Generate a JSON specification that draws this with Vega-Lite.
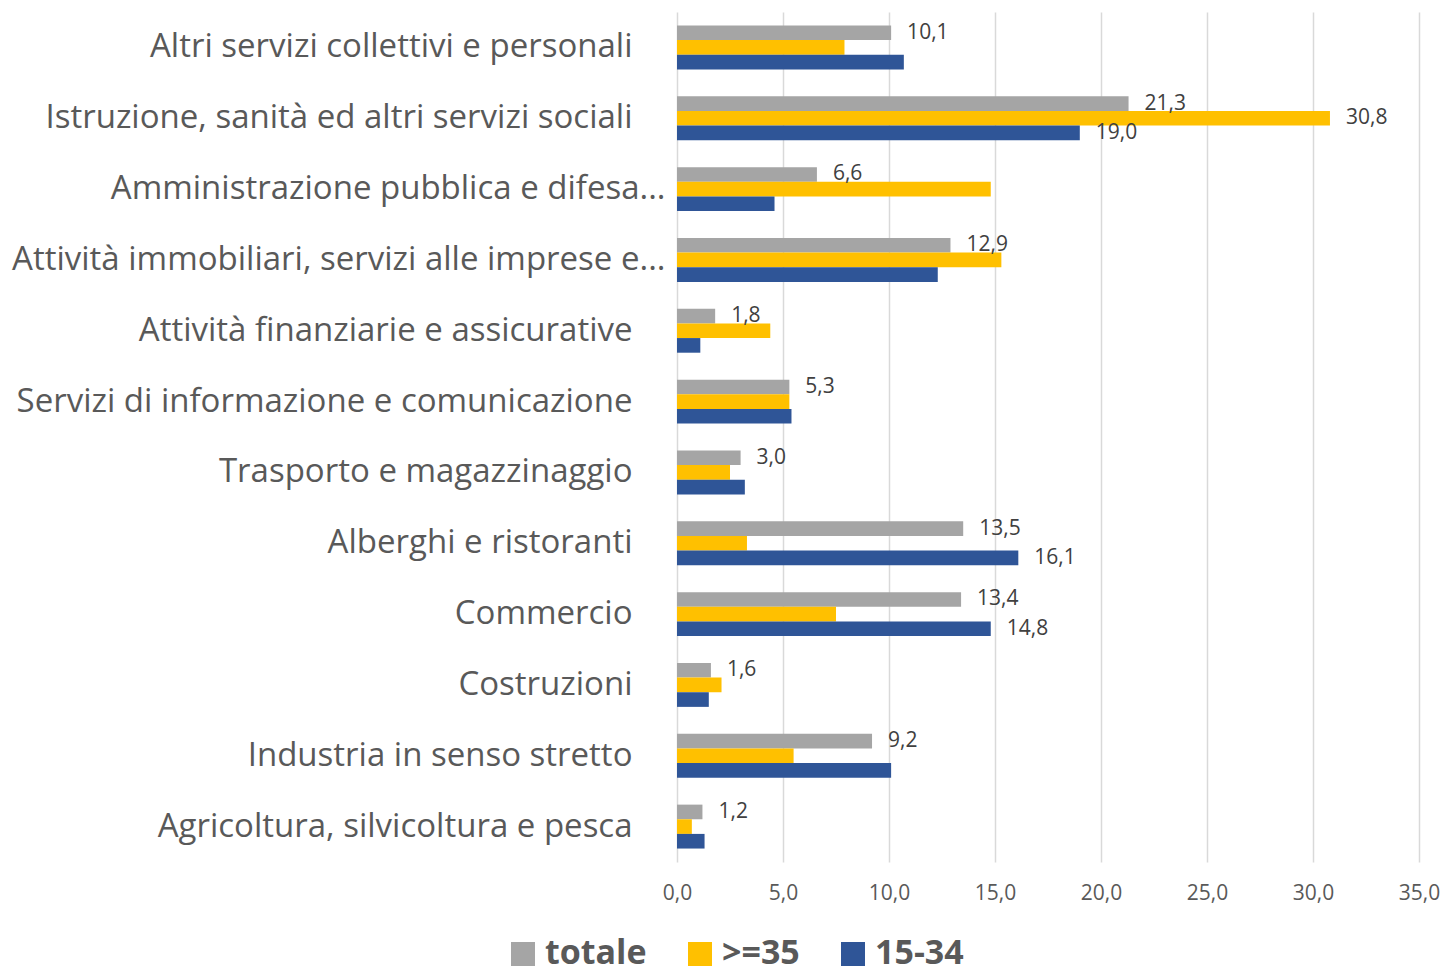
{
  "$schema": "https://vega.github.io/schema/vega-lite/v6.json",
  "width": 742,
  "height": 850,
  "padding": {"left": 11, "top": 12, "right": 10, "bottom": 0},
  "background": "white",
  "config": {
    "locale": {"number": {"decimal": ",", "thousands": ".", "grouping": [3], "currency": ["€", ""]}},
    "view": {"stroke": null},
    "font": "Open Sans"
  },
  "data": {
    "values": [
      {"settore": "Altri servizi collettivi e personali", "serie": "totale", "valore": 10.1, "etichetta": true},
      {"settore": "Altri servizi collettivi e personali", "serie": ">=35", "valore": 7.9, "etichetta": false},
      {"settore": "Altri servizi collettivi e personali", "serie": "15-34", "valore": 10.7, "etichetta": false},
      {"settore": "Istruzione, sanità ed altri servizi sociali", "serie": "totale", "valore": 21.3, "etichetta": true},
      {"settore": "Istruzione, sanità ed altri servizi sociali", "serie": ">=35", "valore": 30.8, "etichetta": true},
      {"settore": "Istruzione, sanità ed altri servizi sociali", "serie": "15-34", "valore": 19.0, "etichetta": true},
      {"settore": "Amministrazione pubblica e difesa...", "serie": "totale", "valore": 6.6, "etichetta": true},
      {"settore": "Amministrazione pubblica e difesa...", "serie": ">=35", "valore": 14.8, "etichetta": false},
      {"settore": "Amministrazione pubblica e difesa...", "serie": "15-34", "valore": 4.6, "etichetta": false},
      {"settore": "Attività immobiliari, servizi alle imprese e...", "serie": "totale", "valore": 12.9, "etichetta": true},
      {"settore": "Attività immobiliari, servizi alle imprese e...", "serie": ">=35", "valore": 15.3, "etichetta": false},
      {"settore": "Attività immobiliari, servizi alle imprese e...", "serie": "15-34", "valore": 12.3, "etichetta": false},
      {"settore": "Attività finanziarie e assicurative", "serie": "totale", "valore": 1.8, "etichetta": true},
      {"settore": "Attività finanziarie e assicurative", "serie": ">=35", "valore": 4.4, "etichetta": false},
      {"settore": "Attività finanziarie e assicurative", "serie": "15-34", "valore": 1.1, "etichetta": false},
      {"settore": "Servizi di informazione e comunicazione", "serie": "totale", "valore": 5.3, "etichetta": true},
      {"settore": "Servizi di informazione e comunicazione", "serie": ">=35", "valore": 5.3, "etichetta": false},
      {"settore": "Servizi di informazione e comunicazione", "serie": "15-34", "valore": 5.4, "etichetta": false},
      {"settore": "Trasporto e magazzinaggio", "serie": "totale", "valore": 3.0, "etichetta": true},
      {"settore": "Trasporto e magazzinaggio", "serie": ">=35", "valore": 2.5, "etichetta": false},
      {"settore": "Trasporto e magazzinaggio", "serie": "15-34", "valore": 3.2, "etichetta": false},
      {"settore": "Alberghi e ristoranti", "serie": "totale", "valore": 13.5, "etichetta": true},
      {"settore": "Alberghi e ristoranti", "serie": ">=35", "valore": 3.3, "etichetta": false},
      {"settore": "Alberghi e ristoranti", "serie": "15-34", "valore": 16.1, "etichetta": true},
      {"settore": "Commercio", "serie": "totale", "valore": 13.4, "etichetta": true},
      {"settore": "Commercio", "serie": ">=35", "valore": 7.5, "etichetta": false},
      {"settore": "Commercio", "serie": "15-34", "valore": 14.8, "etichetta": true},
      {"settore": "Costruzioni", "serie": "totale", "valore": 1.6, "etichetta": true},
      {"settore": "Costruzioni", "serie": ">=35", "valore": 2.1, "etichetta": false},
      {"settore": "Costruzioni", "serie": "15-34", "valore": 1.5, "etichetta": false},
      {"settore": "Industria in senso stretto", "serie": "totale", "valore": 9.2, "etichetta": true},
      {"settore": "Industria in senso stretto", "serie": ">=35", "valore": 5.5, "etichetta": false},
      {"settore": "Industria in senso stretto", "serie": "15-34", "valore": 10.1, "etichetta": false},
      {"settore": "Agricoltura, silvicoltura e pesca", "serie": "totale", "valore": 1.2, "etichetta": true},
      {"settore": "Agricoltura, silvicoltura e pesca", "serie": ">=35", "valore": 0.7, "etichetta": false},
      {"settore": "Agricoltura, silvicoltura e pesca", "serie": "15-34", "valore": 1.3, "etichetta": false}
    ]
  },
  "encoding": {
    "y": {
      "field": "settore",
      "type": "nominal",
      "sort": null,
      "title": null,
      "scale": {"paddingInner": 0.38, "paddingOuter": 0.19},
      "axis": {
        "domain": false,
        "ticks": false,
        "labelFontSize": 33,
        "labelFont": "Open Sans",
        "labelColor": "#595959",
        "labelLimit": 900,
        "labelPadding": {"condition": {"test": "indexof(datum.value, '...') >= 0", "value": 12}, "value": 45}
      }
    },
    "x": {
      "field": "valore",
      "type": "quantitative",
      "title": null,
      "scale": {"domain": [0, 35], "nice": false},
      "axis": {
        "values": [0, 5, 10, 15, 20, 25, 30, 35],
        "format": ".1f",
        "domain": false,
        "ticks": false,
        "grid": true,
        "gridColor": "#D9D9D9",
        "gridWidth": 1.5,
        "labelFlush": false,
        "labelFontSize": 21,
        "labelFont": "Open Sans",
        "labelColor": "#595959",
        "labelPadding": 20
      }
    },
    "yOffset": {"field": "serie", "type": "nominal", "sort": ["totale", ">=35", "15-34"], "scale": {"paddingInner": 0}}
  },
  "layer": [
    {
      "mark": {"type": "bar"},
      "encoding": {
        "color": {
          "field": "serie",
          "type": "nominal",
          "sort": ["totale", ">=35", "15-34"],
          "scale": {"domain": ["totale", ">=35", "15-34"], "range": ["#A5A5A5", "#FFC000", "#2F5597"]},
          "legend": {
            "orient": "none",
            "legendX": -171,
            "legendY": 925,
            "direction": "horizontal",
            "title": null,
            "symbolType": "square",
            "symbolSize": 576,
            "symbolStrokeWidth": 0,
            "labelFontSize": 34,
            "labelFont": "Open Sans",
            "labelFontWeight": "bold",
            "labelColor": "#595959",
            "labelOffset": 5,
            "columnPadding": 36
          }
        }
      }
    },
    {
      "transform": [{"filter": "datum.etichetta"}],
      "mark": {"type": "text", "align": "left", "baseline": "middle", "dx": 16, "fontSize": 21, "font": "Open Sans", "color": "#404040"},
      "encoding": {
        "text": {"field": "valore", "type": "quantitative", "format": ".1f"}
      }
    }
  ]
}
